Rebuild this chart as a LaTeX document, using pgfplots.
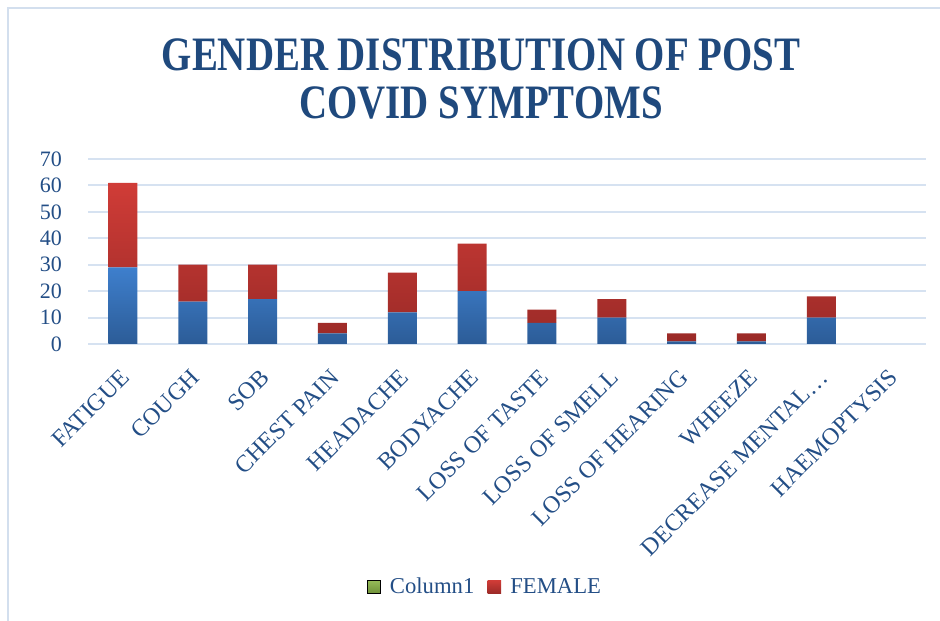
\documentclass[border=0pt]{standalone}
\usepackage{pgfplots}
\pgfplotsset{compat=1.18}
\usepackage{fontspec}
\setmainfont{Liberation Serif}
\newfontfamily\titlefont[FakeStretch=0.81]{Liberation Serif}
\definecolor{tcol}{HTML}{1F497D}
\definecolor{lblcol}{HTML}{234E86}
\definecolor{gridc}{HTML}{D6E2F1}
\definecolor{framec}{HTML}{D3DFEE}
\definecolor{bluetop}{HTML}{3E7FCD}
\definecolor{bluebot}{HTML}{2C5C97}
\definecolor{redtop}{HTML}{D03C37}
\definecolor{redbot}{HTML}{9A2A27}
\definecolor{greenleg}{HTML}{8AB446}
\begin{document}
\begin{tikzpicture}[x=0.75pt,y=0.75pt]
\useasboundingbox (0,0) rectangle (940,621);
\draw[framec, line width=1.5pt] (8,613) rectangle (960,-20);
\node[font=\titlefont\bfseries\fontsize{36}{36}\selectfont, text=tcol, align=center] at (481,542) {GENDER DISTRIBUTION OF POST\\COVID SYMPTOMS};
\begin{axis}[
  at={(66pt,207.75pt)}, anchor=south west,
  scale only axis, width=628.5pt, height=138.75pt,
  ybar stacked, bar width=21.75pt,
  xmin=-0.5, xmax=11.5, ymin=0, ymax=70,
  xtick={0,...,11},
  xticklabels={FATIGUE,COUGH,SOB,CHEST PAIN,HEADACHE,BODYACHE,LOSS OF TASTE,LOSS OF SMELL,LOSS OF HEARING,WHEEZE,DECREASE MENTAL…,HAEMOPTYSIS},
  ytick={0,10,...,70},
  axis line style={draw=none},
  major tick length=0pt,
  ymajorgrids, grid style={gridc, line width=1.5pt},
  tick label style={font=\fontsize{16.5}{18}\selectfont, text=lblcol},
  /pgf/number format/assume math mode=true,
  xticklabel style={font=\fontsize{18}{20}\selectfont, rotate=45, anchor=east, yshift=-17pt, xshift=-11pt},
  yticklabel style={xshift=-16pt},
  legend style={at={(0.474,-1.314)}, anchor=center, draw=none, fill=none,
    legend columns=2, font=\fontsize{17}{20}\selectfont, text=lblcol,
    /tikz/every odd column/.append style={column sep=5pt},
    /tikz/every even column/.append style={column sep=8pt}},
  legend cell align=left,
]
\addplot[draw=none, top color=bluetop, bottom color=bluebot, forget plot] coordinates {
(0,29) (1,16) (2,17) (3,4) (4,12) (5,20) (6,8) (7,10) (8,1) (9,1) (10,10)};
\addlegendimage{legend image code/.code={\fill[top color=greenleg!90!white, bottom color=greenleg!80!black] (0pt,-5pt) rectangle (10pt,5pt);}}
\addplot[draw=none, top color=redtop, bottom color=redbot,
  legend image code/.code={\fill[top color=redtop, bottom color=redbot] (0pt,-5pt) rectangle (10pt,5pt);}] coordinates {
(0,32) (1,14) (2,13) (3,4) (4,15) (5,18) (6,5) (7,7) (8,3) (9,3) (10,8)};
\legend{Column1,FEMALE}
\end{axis}
\end{tikzpicture}
\end{document}
